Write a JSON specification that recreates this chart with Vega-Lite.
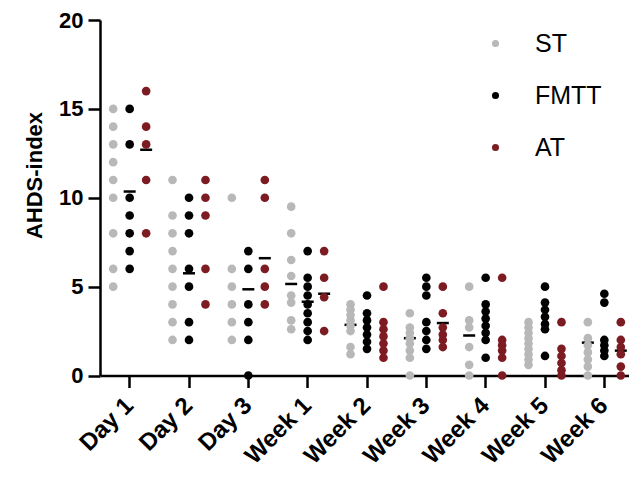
{
  "$schema": "https://vega.github.io/schema/vega-lite/v6.json",
  "width": 529,
  "height": 355.5,
  "autosize": {"type": "none"},
  "padding": {"left": 100, "top": 20, "right": 0, "bottom": 111.5},
  "background": "white",
  "config": {
    "font": "Liberation Sans",
    "view": {"stroke": null},
    "axis": {
      "grid": false,
      "domainColor": "black",
      "domainWidth": 2.5,
      "tickColor": "black",
      "tickWidth": 2.5,
      "tickSize": 12,
      "labelColor": "black",
      "labelFont": "Liberation Sans",
      "labelFontSize": 22,
      "labelFontWeight": "bold",
      "titleColor": "black",
      "titleFont": "Liberation Sans",
      "titleFontSize": 22,
      "titleFontWeight": "bold"
    }
  },
  "datasets": {
    "dots": [
      {"t": "Day 1", "g": "ST", "v": 15}, {"t": "Day 1", "g": "ST", "v": 14}, {"t": "Day 1", "g": "ST", "v": 13},
      {"t": "Day 1", "g": "ST", "v": 12}, {"t": "Day 1", "g": "ST", "v": 11}, {"t": "Day 1", "g": "ST", "v": 10},
      {"t": "Day 1", "g": "ST", "v": 8}, {"t": "Day 1", "g": "ST", "v": 6}, {"t": "Day 1", "g": "ST", "v": 5},
      {"t": "Day 1", "g": "FMTT", "v": 15}, {"t": "Day 1", "g": "FMTT", "v": 13}, {"t": "Day 1", "g": "FMTT", "v": 10},
      {"t": "Day 1", "g": "FMTT", "v": 9}, {"t": "Day 1", "g": "FMTT", "v": 8}, {"t": "Day 1", "g": "FMTT", "v": 7},
      {"t": "Day 1", "g": "FMTT", "v": 6},
      {"t": "Day 1", "g": "AT", "v": 16}, {"t": "Day 1", "g": "AT", "v": 14}, {"t": "Day 1", "g": "AT", "v": 13},
      {"t": "Day 1", "g": "AT", "v": 11}, {"t": "Day 1", "g": "AT", "v": 8},

      {"t": "Day 2", "g": "ST", "v": 11}, {"t": "Day 2", "g": "ST", "v": 9}, {"t": "Day 2", "g": "ST", "v": 8},
      {"t": "Day 2", "g": "ST", "v": 7}, {"t": "Day 2", "g": "ST", "v": 6}, {"t": "Day 2", "g": "ST", "v": 5},
      {"t": "Day 2", "g": "ST", "v": 4}, {"t": "Day 2", "g": "ST", "v": 3}, {"t": "Day 2", "g": "ST", "v": 2},
      {"t": "Day 2", "g": "FMTT", "v": 10}, {"t": "Day 2", "g": "FMTT", "v": 9}, {"t": "Day 2", "g": "FMTT", "v": 8},
      {"t": "Day 2", "g": "FMTT", "v": 6}, {"t": "Day 2", "g": "FMTT", "v": 5}, {"t": "Day 2", "g": "FMTT", "v": 3},
      {"t": "Day 2", "g": "FMTT", "v": 2},
      {"t": "Day 2", "g": "AT", "v": 11}, {"t": "Day 2", "g": "AT", "v": 10}, {"t": "Day 2", "g": "AT", "v": 9},
      {"t": "Day 2", "g": "AT", "v": 6}, {"t": "Day 2", "g": "AT", "v": 4},

      {"t": "Day 3", "g": "ST", "v": 10}, {"t": "Day 3", "g": "ST", "v": 6}, {"t": "Day 3", "g": "ST", "v": 5},
      {"t": "Day 3", "g": "ST", "v": 4}, {"t": "Day 3", "g": "ST", "v": 3}, {"t": "Day 3", "g": "ST", "v": 2},
      {"t": "Day 3", "g": "FMTT", "v": 7}, {"t": "Day 3", "g": "FMTT", "v": 6}, {"t": "Day 3", "g": "FMTT", "v": 4},
      {"t": "Day 3", "g": "FMTT", "v": 3}, {"t": "Day 3", "g": "FMTT", "v": 2}, {"t": "Day 3", "g": "FMTT", "v": 0},
      {"t": "Day 3", "g": "AT", "v": 11}, {"t": "Day 3", "g": "AT", "v": 10}, {"t": "Day 3", "g": "AT", "v": 6},
      {"t": "Day 3", "g": "AT", "v": 5}, {"t": "Day 3", "g": "AT", "v": 4},

      {"t": "Week 1", "g": "ST", "v": 9.5}, {"t": "Week 1", "g": "ST", "v": 8}, {"t": "Week 1", "g": "ST", "v": 6.5},
      {"t": "Week 1", "g": "ST", "v": 5.6}, {"t": "Week 1", "g": "ST", "v": 4.5}, {"t": "Week 1", "g": "ST", "v": 4.1},
      {"t": "Week 1", "g": "ST", "v": 3.1}, {"t": "Week 1", "g": "ST", "v": 2.6},
      {"t": "Week 1", "g": "FMTT", "v": 7}, {"t": "Week 1", "g": "FMTT", "v": 5.5}, {"t": "Week 1", "g": "FMTT", "v": 5},
      {"t": "Week 1", "g": "FMTT", "v": 4.5}, {"t": "Week 1", "g": "FMTT", "v": 4}, {"t": "Week 1", "g": "FMTT", "v": 3.5},
      {"t": "Week 1", "g": "FMTT", "v": 3}, {"t": "Week 1", "g": "FMTT", "v": 2.5}, {"t": "Week 1", "g": "FMTT", "v": 2},
      {"t": "Week 1", "g": "AT", "v": 7}, {"t": "Week 1", "g": "AT", "v": 5.5}, {"t": "Week 1", "g": "AT", "v": 4.4},
      {"t": "Week 1", "g": "AT", "v": 2.5},

      {"t": "Week 2", "g": "ST", "v": 4}, {"t": "Week 2", "g": "ST", "v": 3.7}, {"t": "Week 2", "g": "ST", "v": 3.4},
      {"t": "Week 2", "g": "ST", "v": 3.1}, {"t": "Week 2", "g": "ST", "v": 2.8}, {"t": "Week 2", "g": "ST", "v": 2.5},
      {"t": "Week 2", "g": "ST", "v": 1.6}, {"t": "Week 2", "g": "ST", "v": 1.2},
      {"t": "Week 2", "g": "FMTT", "v": 4.5}, {"t": "Week 2", "g": "FMTT", "v": 3.5}, {"t": "Week 2", "g": "FMTT", "v": 3.1},
      {"t": "Week 2", "g": "FMTT", "v": 2.7}, {"t": "Week 2", "g": "FMTT", "v": 2.3}, {"t": "Week 2", "g": "FMTT", "v": 1.9},
      {"t": "Week 2", "g": "FMTT", "v": 1.5},
      {"t": "Week 2", "g": "AT", "v": 5}, {"t": "Week 2", "g": "AT", "v": 3}, {"t": "Week 2", "g": "AT", "v": 2.6},
      {"t": "Week 2", "g": "AT", "v": 2.2}, {"t": "Week 2", "g": "AT", "v": 1.8}, {"t": "Week 2", "g": "AT", "v": 1.4},
      {"t": "Week 2", "g": "AT", "v": 1.0},

      {"t": "Week 3", "g": "ST", "v": 3.5}, {"t": "Week 3", "g": "ST", "v": 2.7}, {"t": "Week 3", "g": "ST", "v": 2.4},
      {"t": "Week 3", "g": "ST", "v": 2.1}, {"t": "Week 3", "g": "ST", "v": 1.8}, {"t": "Week 3", "g": "ST", "v": 1.4},
      {"t": "Week 3", "g": "ST", "v": 1.0}, {"t": "Week 3", "g": "ST", "v": 0},
      {"t": "Week 3", "g": "FMTT", "v": 5.5}, {"t": "Week 3", "g": "FMTT", "v": 5}, {"t": "Week 3", "g": "FMTT", "v": 4.5},
      {"t": "Week 3", "g": "FMTT", "v": 3}, {"t": "Week 3", "g": "FMTT", "v": 2.5}, {"t": "Week 3", "g": "FMTT", "v": 2},
      {"t": "Week 3", "g": "FMTT", "v": 1.5},
      {"t": "Week 3", "g": "AT", "v": 5}, {"t": "Week 3", "g": "AT", "v": 3.5}, {"t": "Week 3", "g": "AT", "v": 2.7},
      {"t": "Week 3", "g": "AT", "v": 2.3}, {"t": "Week 3", "g": "AT", "v": 2.0}, {"t": "Week 3", "g": "AT", "v": 1.6},

      {"t": "Week 4", "g": "ST", "v": 5}, {"t": "Week 4", "g": "ST", "v": 3.1}, {"t": "Week 4", "g": "ST", "v": 2.7},
      {"t": "Week 4", "g": "ST", "v": 1.6}, {"t": "Week 4", "g": "ST", "v": 0.6}, {"t": "Week 4", "g": "ST", "v": 0},
      {"t": "Week 4", "g": "FMTT", "v": 5.5}, {"t": "Week 4", "g": "FMTT", "v": 4}, {"t": "Week 4", "g": "FMTT", "v": 3.6},
      {"t": "Week 4", "g": "FMTT", "v": 3.2}, {"t": "Week 4", "g": "FMTT", "v": 2.8}, {"t": "Week 4", "g": "FMTT", "v": 2.4},
      {"t": "Week 4", "g": "FMTT", "v": 2.0}, {"t": "Week 4", "g": "FMTT", "v": 1.0},
      {"t": "Week 4", "g": "AT", "v": 5.5}, {"t": "Week 4", "g": "AT", "v": 2}, {"t": "Week 4", "g": "AT", "v": 1.7},
      {"t": "Week 4", "g": "AT", "v": 1.4}, {"t": "Week 4", "g": "AT", "v": 1.0}, {"t": "Week 4", "g": "AT", "v": 0},

      {"t": "Week 5", "g": "ST", "v": 3}, {"t": "Week 5", "g": "ST", "v": 2.7}, {"t": "Week 5", "g": "ST", "v": 2.4},
      {"t": "Week 5", "g": "ST", "v": 2.1}, {"t": "Week 5", "g": "ST", "v": 1.8}, {"t": "Week 5", "g": "ST", "v": 1.5},
      {"t": "Week 5", "g": "ST", "v": 1.2}, {"t": "Week 5", "g": "ST", "v": 0.9}, {"t": "Week 5", "g": "ST", "v": 0.6},
      {"t": "Week 5", "g": "FMTT", "v": 5}, {"t": "Week 5", "g": "FMTT", "v": 4.1}, {"t": "Week 5", "g": "FMTT", "v": 3.7},
      {"t": "Week 5", "g": "FMTT", "v": 3.3}, {"t": "Week 5", "g": "FMTT", "v": 2.9}, {"t": "Week 5", "g": "FMTT", "v": 2.6},
      {"t": "Week 5", "g": "FMTT", "v": 1.1},
      {"t": "Week 5", "g": "AT", "v": 3}, {"t": "Week 5", "g": "AT", "v": 1.5}, {"t": "Week 5", "g": "AT", "v": 1.1},
      {"t": "Week 5", "g": "AT", "v": 0.7}, {"t": "Week 5", "g": "AT", "v": 0.3}, {"t": "Week 5", "g": "AT", "v": 0},

      {"t": "Week 6", "g": "ST", "v": 3}, {"t": "Week 6", "g": "ST", "v": 2.1}, {"t": "Week 6", "g": "ST", "v": 1.7},
      {"t": "Week 6", "g": "ST", "v": 1.3}, {"t": "Week 6", "g": "ST", "v": 0.9}, {"t": "Week 6", "g": "ST", "v": 0.5},
      {"t": "Week 6", "g": "ST", "v": 0},
      {"t": "Week 6", "g": "FMTT", "v": 4.6}, {"t": "Week 6", "g": "FMTT", "v": 4.1}, {"t": "Week 6", "g": "FMTT", "v": 2.0},
      {"t": "Week 6", "g": "FMTT", "v": 1.7}, {"t": "Week 6", "g": "FMTT", "v": 1.4}, {"t": "Week 6", "g": "FMTT", "v": 1.1},
      {"t": "Week 6", "g": "AT", "v": 3}, {"t": "Week 6", "g": "AT", "v": 2}, {"t": "Week 6", "g": "AT", "v": 1.6},
      {"t": "Week 6", "g": "AT", "v": 1.2}, {"t": "Week 6", "g": "AT", "v": 0.5}, {"t": "Week 6", "g": "AT", "v": 0}
    ],
    "means": [
      {"t": "Day 1", "g": "FMTT", "v": 10.35},
      {"t": "Day 1", "g": "AT", "v": 12.7},
      {"t": "Day 2", "g": "FMTT", "v": 5.75},
      {"t": "Day 3", "g": "FMTT", "v": 4.85},
      {"t": "Day 3", "g": "AT", "v": 6.6},
      {"t": "Week 1", "g": "ST", "v": 5.15},
      {"t": "Week 1", "g": "FMTT", "v": 4.15},
      {"t": "Week 1", "g": "AT", "v": 4.6},
      {"t": "Week 2", "g": "ST", "v": 2.85},
      {"t": "Week 3", "g": "ST", "v": 2.1},
      {"t": "Week 3", "g": "AT", "v": 2.95},
      {"t": "Week 4", "g": "ST", "v": 2.25},
      {"t": "Week 6", "g": "ST", "v": 1.85},
      {"t": "Week 6", "g": "AT", "v": 1.4}
    ]
  },
  "layer": [
    {
      "data": {"name": "means"},
      "mark": {"type": "tick", "color": "black", "opacity": 1, "thickness": 2.5, "size": 12, "orient": "horizontal"},
      "encoding": {
        "x": {
          "field": "t", "type": "nominal",
          "sort": ["Day 1", "Day 2", "Day 3", "Week 1", "Week 2", "Week 3", "Week 4", "Week 5", "Week 6"],
          "scale": {
            "domain": ["Day 1", "Day 2", "Day 3", "Week 1", "Week 2", "Week 3", "Week 4", "Week 5", "Week 6"],
            "range": [0, 534], "paddingInner": 0, "paddingOuter": 0
          },
          "axis": {
            "title": null,
            "labelAngle": -45,
            "labelAlign": "right",
            "labelBaseline": "middle",
            "labelFontSize": 24,
            "labelPadding": 14,
            "labelOverlap": false
          }
        },
        "xOffset": {
          "field": "g", "type": "nominal",
          "scale": {"domain": ["ST", "FMTT", "AT"], "paddingInner": 0, "paddingOuter": 0.3}
        },
        "y": {
          "field": "v", "type": "quantitative",
          "scale": {"domain": [0, 20], "nice": false},
          "axis": {
            "title": "AHDS-index",
            "values": [0, 5, 10, 15, 20],
            "labelPadding": 5,
            "titleX": -66,
            "titleY": 155,
            "titleAngle": -90,
            "titleAlign": "center",
            "titleBaseline": "middle"
          }
        }
      }
    },
    {
      "data": {"name": "dots"},
      "mark": {"type": "circle", "size": 75, "opacity": 1},
      "encoding": {
        "x": {"field": "t", "type": "nominal"},
        "xOffset": {"field": "g", "type": "nominal"},
        "y": {"field": "v", "type": "quantitative"},
        "color": {
          "field": "g", "type": "nominal",
          "scale": {"domain": ["ST", "FMTT", "AT"], "range": ["#b8b8b8", "#000000", "#7c1c22"]},
          "legend": {
            "title": null,
            "orient": "none",
            "legendX": 383,
            "legendY": 11,
            "labelFont": "Liberation Sans",
            "labelFontSize": 25,
            "labelColor": "black",
            "labelOffset": 27,
            "rowPadding": 26,
            "symbolType": "circle",
            "symbolSize": 50,
            "symbolStrokeWidth": 0
          }
        }
      }
    }
  ]
}
